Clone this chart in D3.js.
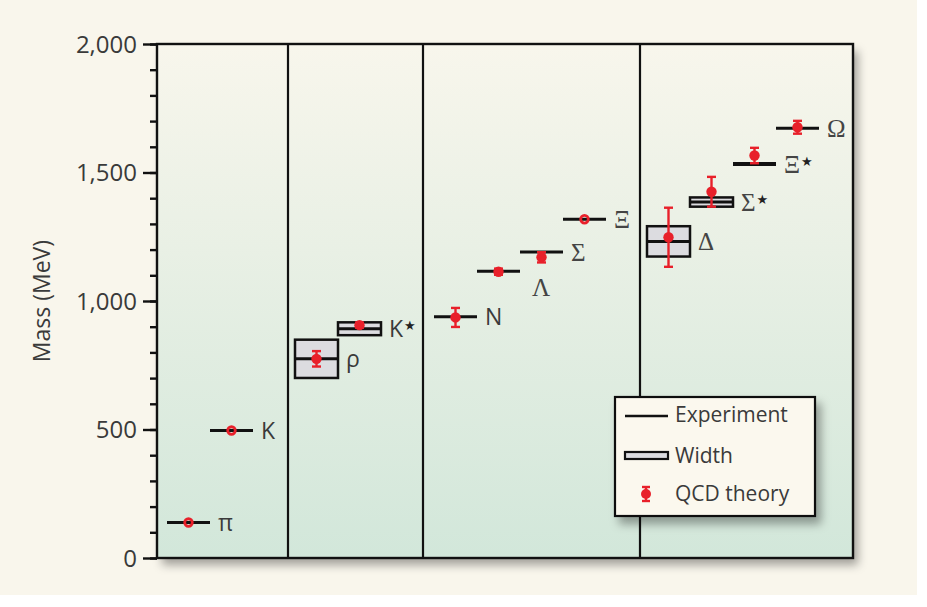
<!DOCTYPE html>
<html><head><meta charset="utf-8">
<script src="https://cdn.jsdelivr.net/npm/d3@7"></script>
<style>html,body{margin:0;padding:0;background:#fff;}svg{display:block;}</style>
</head><body><svg id="c" width="927" height="607"></svg>
<script>
// ---- data ----
const panelGroups = [["π","K"],["ρ","K*"],["N","Λ","Σ","Ξ"],["Δ","Σ*","Ξ*","Ω"]];
const particles = ["π","K","ρ","K*","N","Λ","Σ","Ξ","Δ","Σ*","Ξ*","Ω"];
const expMass   = [138, 496, 775, 892, 939, 1116, 1191, 1318, 1232, 1385, 1533, 1672];
const expWidth  = [0, 0, 149, 50, 0, 0, 0, 0, 118, 36, 9, 0];
const qcdMass   = [138, 496, 775, 906, 936, 1114, 1170, 1318, 1248, 1425, 1566, 1676];
const qcdError  = [0, 0, 30, 10, 37, 12, 20, 0, 115, 58, 30, 25];
const fixedInputs = ["π","K","Ξ"];
const yTicks = [0, 500, 1000, 1500, 2000];
const yMinorTicks = d3.range(0, 2001, 100);
const legendItems = ["Experiment","Width","QCD theory"];

// ---- layout ----
const svg = d3.select("#c");
const L = 157, R = 853, T = 44, B = 558;
const panelWidths = [131, 135, 217, 213];
const panelPad = [10, 7, 11, 7];
const slot = 43;
const red = "#e8202a";
const sans = "'Open Sans', Lato, sans-serif";
const serif = "'Liberation Serif', 'DejaVu Serif', serif";
const txt = "#3a3a3a";

const defs = svg.append("defs");
const grad = defs.append("linearGradient").attr("id","bg").attr("x1",0).attr("y1",0).attr("x2",0).attr("y2",1);
grad.append("stop").attr("offset","0%").attr("stop-color","#f8f6ec");
grad.append("stop").attr("offset","100%").attr("stop-color","#d2e7da");
const sh = defs.append("filter").attr("id","sh").attr("x","-10%").attr("y","-10%").attr("width","130%").attr("height","130%");
sh.append("feDropShadow").attr("dx",5).attr("dy",7).attr("stdDeviation",5).attr("flood-color","#000").attr("flood-opacity",0.35);

svg.append("rect").attr("x",0).attr("y",0).attr("width",917).attr("height",595).attr("fill","#f9f6ec");

const y = d3.scaleLinear().domain([0, 2000]).range([B, T]);

// plot background with shadow
svg.append("rect").attr("x",L).attr("y",T).attr("width",R-L).attr("height",B-T)
  .attr("fill","url(#bg)").attr("filter","url(#sh)");

// panels
let left = L;
const xPos = {};
const panelLefts = [];
panelGroups.forEach((g, i) => {
  panelLefts.push(left);
  const sc = d3.scaleBand().domain(g).range([left + panelPad[i], left + panelPad[i] + slot * g.length]);
  g.forEach(n => { xPos[n] = [sc(n), sc(n) + sc.bandwidth()]; });
  left += panelWidths[i];
});
panelLefts.slice(1).forEach(px => {
  svg.append("line").attr("x1",px).attr("x2",px).attr("y1",T).attr("y2",B)
    .attr("stroke","#111").attr("stroke-width",2.2);
});

// axes
const minorAxis = d3.axisLeft(y).tickValues(yMinorTicks).tickSize(7).tickFormat("");
const majorAxis = d3.axisLeft(y).tickValues(yTicks).tickSize(14).tickPadding(6).tickFormat(d3.format(","));
const gMin = svg.append("g").attr("transform",`translate(${L},0)`).call(minorAxis);
const gMaj = svg.append("g").attr("transform",`translate(${L},0)`).call(majorAxis);
[gMin, gMaj].forEach(g => {
  g.select(".domain").remove();
  g.selectAll(".tick line").attr("stroke","#111").attr("stroke-width",2.4);
});
gMaj.selectAll(".tick text").attr("font-family",sans).attr("font-weight",400).attr("font-size",24).attr("fill",txt).attr("dy","0.35em");

svg.append("text").attr("transform","translate(50,301) rotate(-90)").attr("text-anchor","middle")
  .attr("font-family",sans).attr("font-weight",400).attr("font-size",23).attr("fill",txt).text("Mass (MeV)");

// data marks
const data = particles.map((n, i) => ({
  name: n, m: expMass[i], w: expWidth[i], q: qcdMass[i], e: qcdError[i],
  x0: xPos[n][0], x1: xPos[n][1], fixed: fixedInputs.includes(n)
}));
const g = svg.append("g");
data.forEach(d => {
  const cx = (d.x0 + d.x1) / 2;
  const h = y(d.m - d.w/2) - y(d.m + d.w/2);
  if (d.w > 0 && h > 4) {
    g.append("rect").attr("x",d.x0).attr("y",y(d.m + d.w/2)).attr("width",d.x1-d.x0).attr("height",h)
      .attr("fill","#dcdce0").attr("stroke","#111").attr("stroke-width",2.5);
  }
  g.append("line").attr("x1",d.x0).attr("x2",d.x1).attr("y1",y(d.m)).attr("y2",y(d.m))
    .attr("stroke","#111").attr("stroke-width", d.w > 0 && h <= 4 ? 4 : 3);
  if (d.fixed) {
    g.append("circle").attr("cx",cx).attr("cy",y(d.q)).attr("r",3.8)
      .attr("fill","none").attr("stroke",red).attr("stroke-width",2.8);
  } else {
    if (d.e > 0) {
      g.append("line").attr("x1",cx).attr("x2",cx).attr("y1",y(d.q+d.e)).attr("y2",y(d.q-d.e))
        .attr("stroke",red).attr("stroke-width",2.4);
      [d.q+d.e, d.q-d.e].forEach(v => g.append("line").attr("x1",cx-4.5).attr("x2",cx+4.5)
        .attr("y1",y(v)).attr("y2",y(v)).attr("stroke",red).attr("stroke-width",2.4));
    }
    g.append("circle").attr("cx",cx).attr("cy",y(d.q)).attr("r",5.2).attr("fill",red);
  }
  // label
  const base = d.name.replace("*","");
  const serifLabel = /[ΛΣΞΔΩ]/.test(base);
  const isLambda = d.name === "Λ";
  const t = g.append("text")
    .attr("x", isLambda ? d.x1 + 12 : d.x1 + 8)
    .attr("y", isLambda ? y(d.m) + 16 : y(d.m))
    .attr("dy","0.35em")
    .attr("font-family", serifLabel ? serif : sans)
    .attr("font-weight", serifLabel ? 400 : 400)
    .attr("font-size", serifLabel ? 25 : 23)
    .attr("fill", serifLabel ? "#444" : txt);
  t.append("tspan").text(base);
  if (d.name.includes("*")) {
    t.append("tspan").attr("dy","-0.5em").attr("dx",1).attr("font-size",13).attr("font-family","'DejaVu Sans', sans-serif")
      .attr("fill","#222").text("★");
  }
});

// legend
const lg = svg.append("g");
lg.append("rect").attr("x",615).attr("y",397).attr("width",200).attr("height",119)
  .attr("fill","#fbf8ee").attr("stroke","#111").attr("stroke-width",2.2).attr("filter","url(#sh)");
lg.append("line").attr("x1",625).attr("x2",668).attr("y1",416).attr("y2",416).attr("stroke","#111").attr("stroke-width",2.4);
lg.append("rect").attr("x",625).attr("y",452).attr("width",43).attr("height",7)
  .attr("fill","#dcdce0").attr("stroke","#111").attr("stroke-width",2.2);
const lx = 646, ly = 494;
lg.append("line").attr("x1",lx).attr("x2",lx).attr("y1",ly-7).attr("y2",ly+7).attr("stroke",red).attr("stroke-width",2.4);
[ly-7, ly+7].forEach(v => lg.append("line").attr("x1",lx-4).attr("x2",lx+4).attr("y1",v).attr("y2",v).attr("stroke",red).attr("stroke-width",2.4));
lg.append("circle").attr("cx",lx).attr("cy",ly).attr("r",5).attr("fill",red);
legendItems.forEach((s, i) => {
  lg.append("text").attr("x",675).attr("y",[415,456,494][i]).attr("dy","0.35em")
    .attr("font-family",sans).attr("font-weight",400).attr("font-size",21).attr("fill",txt).text(s);
});

// plot border on top
svg.append("rect").attr("x",L).attr("y",T).attr("width",R-L).attr("height",B-T)
  .attr("fill","none").attr("stroke","#111").attr("stroke-width",2.4);
</script></body></html>
